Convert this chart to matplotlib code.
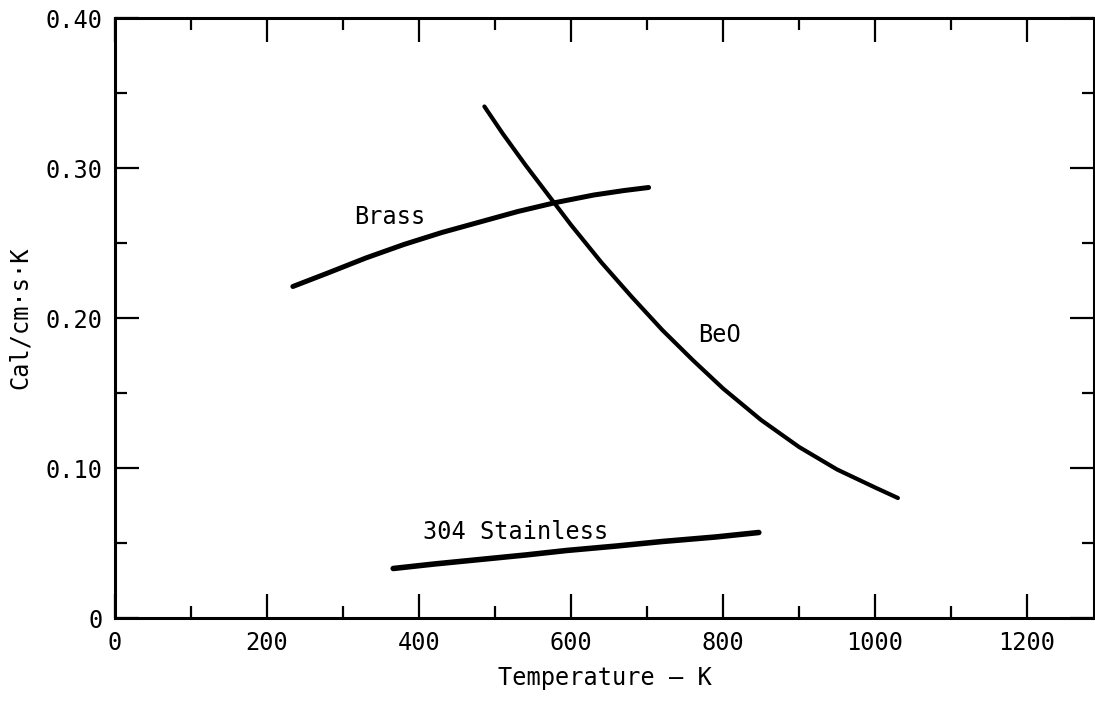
import matplotlib.pyplot as plt
from matplotlib.ticker import MultipleLocator, FixedLocator

# values
brass_t = [234, 280, 330, 380, 430, 480, 530, 580, 630, 670, 702]
brass_k = [0.221, 0.230, 0.240, 0.249, 0.257, 0.264, 0.271, 0.277, 0.282, 0.285, 0.287]

beo_t = [486, 510, 540, 570, 600, 640, 680, 720, 760, 800, 850, 900, 950, 1000, 1030]
beo_k = [0.341, 0.323, 0.302, 0.282, 0.262, 0.237, 0.214, 0.192, 0.172, 0.153,
         0.132, 0.114, 0.099, 0.087, 0.080]

ss_t = [366, 420, 480, 540, 594, 660, 720, 790, 847]
ss_k = [0.033, 0.036, 0.039, 0.042, 0.045, 0.048, 0.051, 0.054, 0.057]

x_ticks = [0, 200, 400, 600, 800, 1000, 1200]
y_ticks = [0, 0.10, 0.20, 0.30, 0.40]
y_labels = ['0', '0.10', '0.20', '0.30', '0.40']

plt.rcParams['font.family'] = ['DejaVu Sans Mono']
plt.rcParams['font.size'] = 17

fig = plt.figure(figsize=(10.95, 7.03), dpi=100)
ax = fig.add_axes([115 / 1095, 85 / 703, (1094 - 115) / 1095, 600 / 703])

ax.plot(brass_t, brass_k, color='black', lw=3.6, solid_capstyle='round', solid_joinstyle='round')
ax.plot(beo_t, beo_k, color='black', lw=3.0, solid_capstyle='round', solid_joinstyle='round')
ax.plot(ss_t, ss_k, color='black', lw=4.0, solid_capstyle='round', solid_joinstyle='round')

ax.text(314, 0.267, 'Brass', ha='left', va='center')
ax.text(767, 0.189, 'BeO', ha='left', va='center')
ax.text(405, 0.0573, '304 Stainless', ha='left', va='center')

ax.set_xlim(0, 1288)
ax.set_ylim(0, 0.40)
ax.xaxis.set_major_locator(FixedLocator(x_ticks))
ax.xaxis.set_minor_locator(MultipleLocator(100))
ax.yaxis.set_major_locator(FixedLocator(y_ticks))
ax.yaxis.set_minor_locator(MultipleLocator(0.05))
ax.set_yticklabels(y_labels)

ax.tick_params(which='both', direction='in', top=True, right=True, width=1.6)
ax.tick_params(which='major', length=17, pad=9)
ax.tick_params(which='minor', length=8.5)
for s in ax.spines.values():
    s.set_linewidth(2.2)

ax.set_xlabel('Temperature — K', labelpad=8)
ax.set_ylabel('Cal/cm·s·K', labelpad=10)

fig.savefig('out.png', dpi=100)
